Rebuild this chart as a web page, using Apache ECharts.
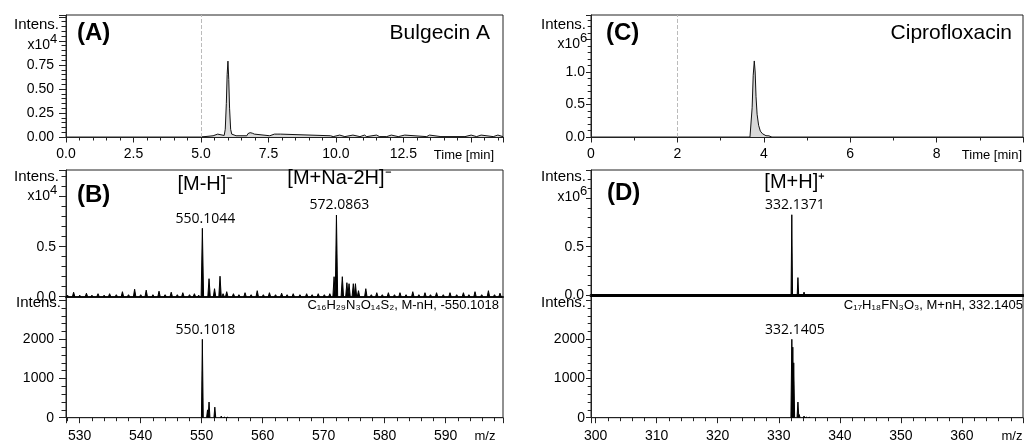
<!DOCTYPE html>
<html><head><meta charset="utf-8">
<script src="https://cdn.jsdelivr.net/npm/echarts@6/dist/echarts.min.js"></script>
<style>html,body{margin:0;padding:0;background:#fff}#c{width:1024px;height:441px}</style>
</head><body><div id="c"></div>
<script>
// ---------------- DATA ----------------
// (A) Bulgecin A extracted ion chromatogram, [time min, intensity x10^4]
const eicA = [[5.0,0],[5.01,0.012],[5.45,0.013],[5.48,0.028],[5.62,0.03],[5.65,0.014],[5.86,0.016],[5.9,0.08],[5.94,0.35],[5.97,0.65],[6.0,0.79],[6.03,0.6],[6.06,0.3],[6.1,0.08],[6.14,0.03],[6.2,0.02],[6.3,0.013],[6.7,0.013],[6.74,0.035],[6.82,0.045],[6.9,0.04],[6.98,0.03],[7.02,0.013],[7.55,0.013],[7.58,0.03],[7.72,0.03],[7.76,0.018],[7.82,0.03],[7.95,0.03],[7.99,0.013],[9.8,0.013],[9.82,0.004],
[9.9,0.004],[9.91,0.02],[10.14,0.02],[10.15,0.004],[10.33,0.004],[10.34,0.02],[10.63,0.02],[10.64,0.004],[10.89,0.004],[10.9,0.02],[11.06,0.02],[11.07,0.004],[11.14,0.004],[11.15,0.02],[11.5,0.02],[11.51,0.004],[11.62,0.004],[11.63,0.02],[11.66,0.02],[11.67,0.004],[11.88,0.004],[11.89,0.02],[12.05,0.02],[12.06,0.004],[12.31,0.004],[12.32,0.02],[12.55,0.02],[12.56,0.004],[13.36,0.004],[13.37,0.02],[13.47,0.02],[13.48,0.004],[13.89,0.004],[13.9,0.02],[13.94,0.02],[13.95,0.004],[14.78,0.004],[14.79,0.02],[15.01,0.02],[15.02,0.004],[15.21,0.004],[15.22,0.02],[15.38,0.02],[15.39,0.004],[15.83,0.004],[15.84,0.02],[16.0,0.02],[16.01,0.004],[16.19,0.004]];
// (C) Ciprofloxacin extracted ion chromatogram, [time min, intensity x10^6]
const eicC = [[3.68,0],[3.71,0.03],[3.73,0.45],[3.755,0.95],[3.78,1.17],[3.8,1.0],[3.82,0.62],[3.845,0.35],[3.88,0.18],[3.92,0.09],[3.97,0.05],[4.0,0.03],[4.05,0.02],[4.12,0.018],[4.16,0.015],[4.18,0]];
// (B) measured spectrum [m/z, intensity x10^4]
const msB = [[528.0,0.015],[529.0,0.045],[530.0,0.015],[531.1,0.035],[532.0,0.015],[533.0,0.03],[534.0,0.015],[534.9,0.03],[536.0,0.02],[537.0,0.05],[538.0,0.02],[539.0,0.075],[540.0,0.02],[540.9,0.065],[542.0,0.02],[543.0,0.055],[544.0,0.02],[545.0,0.045],[546.0,0.02],[546.9,0.04],[548.0,0.02],[548.8,0.03],[549.5,0.015],
[550.1044,0.684],[551.2,0.18],[552.1,0.08],[553.0,0.205],[553.5,0.03],[554.1,0.05],[555.2,0.03],[556.1,0.02],[557.1,0.04],[558.1,0.02],[559.1,0.06],[560.1,0.02],[561.1,0.04],[562.1,0.02],[563.1,0.035],[564.0,0.02],[565.0,0.03],[566.1,0.02],[567.2,0.03],[568.1,0.02],[569.1,0.03],[570.1,0.02],[571.0,0.03],[571.7,0.2],
[572.0863,0.817],[573.05,0.2],[573.8,0.14],[574.15,0.13],[574.85,0.13],[575.2,0.13],[575.7,0.06],[576.9,0.08],[577.8,0.02],[578.7,0.04],[579.6,0.02],[580.6,0.04],[581.6,0.02],[582.5,0.04],[583.5,0.02],[584.6,0.05],[585.6,0.02],[586.6,0.04],[587.5,0.02],[588.5,0.04],[589.6,0.02],[590.7,0.04],[591.8,0.02],[592.9,0.04],[593.8,0.02],[594.8,0.05],[595.9,0.02],[597.0,0.06],[598.0,0.02],[598.9,0.035]];
// (B) simulated isotope pattern C16H29N3O14S2 [m/z, intensity]
const msBsim = [[550.1018,2000],[550.95,200],[551.2,400],[552.15,270],[553.2,40],[553.7,15],[554.2,12]];
// (D) measured spectrum [m/z, intensity x10^6]
const msD = [[332.1371,0.83],[333.14,0.18],[334.14,0.03]];
// (D) simulated isotope pattern C17H18FN3O3 [m/z, intensity]
const msDsim = [[332.1405,2000],[332.3,1800],[332.45,1400],[333.14,400],[333.35,80],[334.14,40],[334.5,15],[335.0,10]];
// peak annotations
const annB = [{mz:550.1044, h:0.684, ion:'[M-H]⁻', num:'550.1044'},{mz:572.0863, h:0.817, ion:'[M+Na-2H]⁻', num:'572.0863'}];
const annBsim = [{mz:550.1018, h:2000, num:'550.1018'}];
const annD = [{mz:332.1371, h:0.83, ion:'[M+H]⁺', num:'332.1371'}];
const annDsim = [{mz:332.1405, h:2000, num:'332.1405'}];
// tick labels
const xTicksA = [0, 2.5, 5, 7.5, 10, 12.5];
const yTicksA = [0, 0.25, 0.5, 0.75];
const xTicksC = [0, 2, 4, 6, 8];
const yTicksC = [0, 0.5, 1.0];
const yTicksMS = [0, 0.5];
const yTicksSim = [0, 1000, 2000];
const xTicksB = [530, 540, 550, 560, 570, 580, 590];
const xTicksD = [300, 310, 320, 330, 340, 350, 360];

// ---------------- CHART ----------------
const FF = "'Liberation Sans', Arial, sans-serif";
const NF = "'Open Sans', 'Liberation Sans', sans-serif";
const INK = '#000';
const chart = echarts.init(document.getElementById('c'), null, {renderer: 'canvas'});

function fmt(list, dec) {
  return function (v) {
    for (const t of list) if (Math.abs(t - v) < 1e-6) return dec == null ? String(t) : t.toFixed(dec);
    return '';
  };
}
function grid(l, t, w, h) {
  return {left: l, top: t, width: w, height: h, show: true, borderColor: '#222', borderWidth: 1, containLabel: false, outerBoundsMode: 'none'};
}
function xAx(gi, min, max, o) {
  return Object.assign({
    type: 'value', gridIndex: gi, min: min, max: max, position: 'bottom',
    axisLine: {show: true, onZero: false, lineStyle: {color: '#222', width: 1}},
    axisTick: {show: true, inside: false, length: 5.5, lineStyle: {color: '#222'}},
    minorTick: {show: true, splitNumber: 5, length: 3.5, lineStyle: {color: '#222'}},
    splitLine: {show: false}, minorSplitLine: {show: false},
    axisLabel: {show: true, color: INK, fontSize: 14, fontFamily: FF, margin: 10, hideOverlap: false, showMinLabel: true, showMaxLabel: true}
  }, o);
}
function yAx(gi, max, interval, o) {
  return Object.assign({
    type: 'value', gridIndex: gi, min: 0, max: max, interval: interval,
    axisLine: {show: true, onZero: false, lineStyle: {color: '#222', width: 1}},
    axisTick: {show: true, inside: false, length: 7, lineStyle: {color: '#222'}},
    minorTick: {show: true, splitNumber: 5, length: 4.5, lineStyle: {color: '#222'}},
    splitLine: {show: false}, minorSplitLine: {show: false},
    axisLabel: {show: true, color: INK, fontSize: 14, fontFamily: FF, margin: 12, hideOverlap: false, showMinLabel: true, showMaxLabel: true}
  }, o);
}
function spikes(xi, data, halfW) {
  return {
    type: 'custom', xAxisIndex: xi, yAxisIndex: xi, data: data, encode: {x: 0, y: 1}, clip: true, silent: true, z: 3,
    renderItem: function (params, api) {
      const mz = api.value(0), h = api.value(1);
      const p0 = api.coord([mz - halfW, 0]), p1 = api.coord([mz, h]), p2 = api.coord([mz + halfW, 0]);
      return {type: 'polygon', shape: {points: [p0, p1, p2]}, style: {fill: '#000', stroke: '#000', lineWidth: 1}};
    }
  };
}
function annSeries(xi, list, ionLH) {
  return {
    type: 'scatter', xAxisIndex: xi, yAxisIndex: xi, symbol: 'circle', symbolSize: 0, silent: true, z: 5,
    itemStyle: {color: '#000', opacity: 1},
    emphasis: {disabled: true},
    data: list.map(function (a, i) {
      const txt = a.ion ? '{ion|' + a.ion + '}\n{num|' + a.num + '}' : '{num|' + a.num + '}';
      return {value: [a.mz, a.h], label: {
        show: true, position: 'top', distance: 1.5, offset: [3, 0], formatter: txt,
        color: '#000', opacity: 1, textBorderWidth: 0,
        rich: {
          ion: {fontSize: 20, fontFamily: FF, color: '#000', lineHeight: ionLH ? ionLH[i] : 30, align: 'center', textBorderWidth: 0},
          num: {fontSize: 14, fontFamily: NF, color: '#000', lineHeight: 16, align: 'center', textBorderWidth: 0}
        }
      }};
    })
  };
}
function t(x, y, text, size, align, weight, family) {
  return {type: 'text', x: x, y: y, silent: true, z: 10,
    style: {text: text, fill: INK, fontSize: size, fontFamily: family || FF, fontWeight: weight || 'normal',
      align: align || 'left', textAlign: align || 'left', verticalAlign: 'middle', textVerticalAlign: 'middle'}};
}

const option = {
  animation: false,
  backgroundColor: '#fff',
  grid: [grid(66, 15, 437, 122), grid(66, 170, 437, 126.7), grid(66, 296.7, 437, 121),
         grid(591, 15, 432, 122), grid(591, 170, 432, 125), grid(591, 295, 432, 122.7)],
  xAxis: [
    xAx(0, 0, 16.19, {interval: 2.5, axisLabel: {color: INK, fontSize: 14, fontFamily: FF, margin: 10, formatter: fmt(xTicksA, 1)}}),
    xAx(1, 527.75, 599.39, {axisTick: {show: false}, minorTick: {show: false}, axisLabel: {show: false}, axisLine: {show: true, onZero: false, lineStyle: {color: '#111', width: 2}}}),
    xAx(2, 527.75, 599.39, {splitNumber: 7, axisLabel: {color: INK, fontSize: 14, fontFamily: FF, margin: 11, formatter: fmt(xTicksB)}}),
    xAx(3, 0, 10, {interval: 2, minorTick: {show: true, splitNumber: 2, length: 3.5, lineStyle: {color: '#222'}}, axisLabel: {color: INK, fontSize: 14, fontFamily: FF, margin: 10, formatter: fmt(xTicksC)}}),
    xAx(4, 299.25, 370, {axisTick: {show: false}, minorTick: {show: false}, axisLabel: {show: false}, axisLine: {show: true, onZero: false, lineStyle: {color: '#000', width: 3}}}),
    xAx(5, 299.25, 370, {splitNumber: 7, axisLabel: {color: INK, fontSize: 14, fontFamily: FF, margin: 11, formatter: fmt(xTicksD)}})
  ],
  yAxis: [
    yAx(0, 1.27, 0.25, {axisLabel: {color: INK, fontSize: 14, fontFamily: FF, margin: 12, formatter: fmt(yTicksA, 2)}}),
    yAx(1, 1.267, 0.5, {axisLabel: {color: INK, fontSize: 14, fontFamily: FF, margin: 10, formatter: fmt(yTicksMS, 1)}}),
    yAx(2, 3087, 1000, {axisLabel: {color: INK, fontSize: 14, fontFamily: FF, margin: 12, formatter: fmt(yTicksSim)}}),
    yAx(3, 1.877, 0.5, {axisTick: {show: true, length: 5, lineStyle: {color: '#222'}}, minorTick: {show: true, splitNumber: 5, length: 3.3, lineStyle: {color: '#222'}}, axisLabel: {color: INK, fontSize: 14, fontFamily: FF, margin: 6, formatter: fmt(yTicksC, 1)}}),
    yAx(4, 1.293, 0.5, {axisTick: {show: true, length: 5, lineStyle: {color: '#222'}}, minorTick: {show: true, splitNumber: 5, length: 3.3, lineStyle: {color: '#222'}}, axisLabel: {color: INK, fontSize: 14, fontFamily: FF, margin: 7, formatter: fmt(yTicksMS, 1)}}),
    yAx(5, 3130, 1000, {axisTick: {show: true, length: 5, lineStyle: {color: '#222'}}, minorTick: {show: true, splitNumber: 5, length: 3.3, lineStyle: {color: '#222'}}, axisLabel: {color: INK, fontSize: 14, fontFamily: FF, margin: 6, formatter: fmt(yTicksSim)}})
  ],
  series: [
    {type: 'line', xAxisIndex: 0, yAxisIndex: 0, data: eicA, symbol: 'none', showSymbol: false, silent: true, z: 3,
      lineStyle: {color: '#111', width: 1}, areaStyle: {color: '#d9d9d9', opacity: 1},
      markLine: {silent: true, symbol: 'none', label: {show: false}, lineStyle: {color: '#bbb', type: 'dashed', width: 1}, data: [{xAxis: 5}]}},
    {type: 'line', xAxisIndex: 3, yAxisIndex: 3, data: eicC, symbol: 'none', showSymbol: false, silent: true, z: 3,
      lineStyle: {color: '#111', width: 1}, areaStyle: {color: '#d9d9d9', opacity: 1},
      markLine: {silent: true, symbol: 'none', label: {show: false}, lineStyle: {color: '#bbb', type: 'dashed', width: 1}, data: [{xAxis: 2}]}},
    spikes(1, msB, 0.2),
    spikes(2, msBsim, 0.15),
    spikes(4, msD, 0.12),
    spikes(5, msDsim, 0.15),
    annSeries(1, annB, [52, 39]),
    annSeries(2, annBsim),
    annSeries(4, annD, [30]),
    annSeries(5, annDsim)
  ],
  graphic: [
    t(77, 33, '(A)', 24, 'left', 'bold'), t(490, 33, 'Bulgecin A', 21, 'right'),
    t(77, 195, '(B)', 24, 'left', 'bold'),
    t(606, 33, '(C)', 24, 'left', 'bold'), t(1012, 33, 'Ciprofloxacin', 21, 'right'),
    t(607, 193, '(D)', 24, 'left', 'bold'),
    t(59, 25, 'Intens.', 15, 'right'), t(50, 45, 'x10', 14, 'right'), t(50, 39, '4', 13, 'left'),
    t(59, 177, 'Intens.', 15, 'right'), t(50, 196, 'x10', 14, 'right'), t(50, 190, '4', 13, 'left'),
    t(61, 303, 'Intens.', 15, 'right'),
    t(586, 25, 'Intens.', 15, 'right'), t(580, 44, 'x10', 14, 'right'), t(580, 38, '6', 13, 'left'),
    t(586, 177, 'Intens.', 15, 'right'), t(580, 197, 'x10', 14, 'right'), t(580, 191, '6', 13, 'left'),
    t(586, 303, 'Intens.', 15, 'right'),
    t(494, 155, 'Time [min]', 13, 'right'), t(1022, 155, 'Time [min]', 13, 'right'),
    t(485, 436, 'm/z', 13, 'center'), t(1012, 436, 'm/z', 13, 'center'),
    t(499, 305, 'C₁₆H₂₉N₃O₁₄S₂, M-nH, -550.1018', 13, 'right'),
    t(1023, 305, 'C₁₇H₁₈FN₃O₃, M+nH, 332.1405', 13, 'right')
  ]
};
chart.setOption(option);
</script>
</body></html>
